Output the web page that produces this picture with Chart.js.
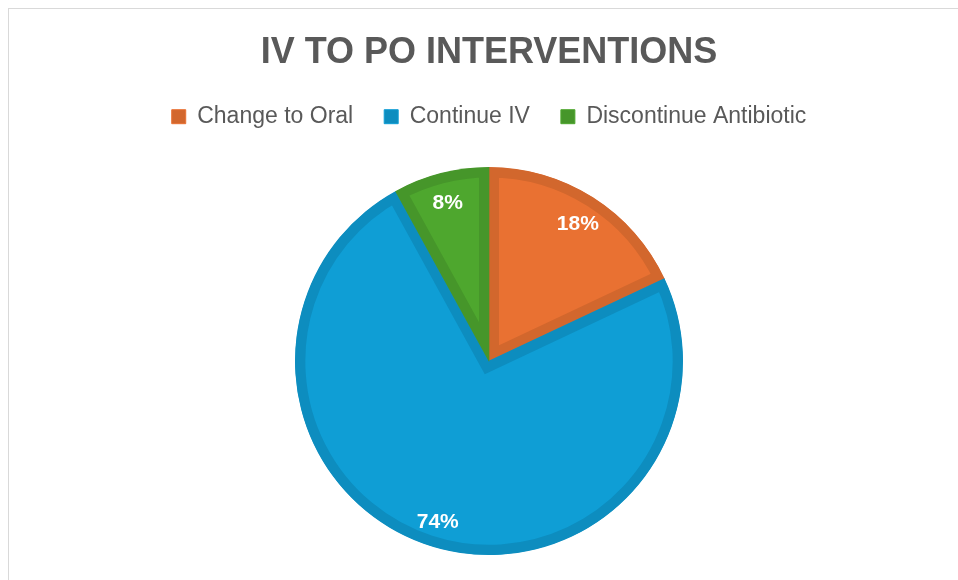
<!DOCTYPE html>
<html>
<head>
<meta charset="utf-8">
<script src="https://cdn.jsdelivr.net/npm/chart.js@4.4.1/dist/chart.umd.min.js"></script>
<style>
  html, body { margin: 0; padding: 0; background: #ffffff; }
  #wrap { position: relative; width: 958px; height: 580px; overflow: hidden; }
  #frame { position: absolute; left: 8px; top: 8px; width: 980px; height: 620px; border: 1px solid #d9d9d9; box-sizing: border-box; }
  #c { position: absolute; left: 0; top: 0; }
</style>
</head>
<body>
<div id="wrap">
  <div id="frame"></div>
  <canvas id="c" width="958" height="580"></canvas>
</div>
<script>
const titleText = 'IV TO PO INTERVENTIONS';
const categories = ['Change to Oral', 'Continue IV', 'Discontinue Antibiotic'];
const shares = [18, 74, 8];
const fillColors = ['#E97132', '#0F9ED5', '#4EA72E'];
const edgeColors = ['#D2672D', '#0D8DBF', '#46962A'];

const sliceLabels = {
  id: 'sliceLabels',
  afterDatasetsDraw(chart) {
    const meta = chart.getDatasetMeta(0);
    const data = chart.data.datasets[0].data;
    const total = data.reduce((a, b) => a + b, 0);
    const ctx = chart.ctx;
    ctx.save();
    ctx.fillStyle = '#ffffff';
    ctx.font = 'bold 21px "Liberation Sans", Arial, sans-serif';
    ctx.textAlign = 'center';
    ctx.textBaseline = 'alphabetic';
    meta.data.forEach((arc, i) => {
      const p = arc.getProps(['x', 'y', 'startAngle', 'endAngle', 'outerRadius'], true);
      const mid = (p.startAngle + p.endAngle) / 2;
      const r = p.outerRadius * 0.855;
      const x = p.x + Math.cos(mid) * r;
      const y = p.y + Math.sin(mid) * r;
      ctx.fillText(Math.round(data[i] / total * 100) + '%', x, y + 9);
    });
    ctx.restore();
  }
};

new Chart(document.getElementById('c'), {
  type: 'pie',
  data: {
    labels: categories,
    datasets: [{
      data: shares,
      backgroundColor: fillColors,
      borderColor: edgeColors,
      borderWidth: 10,
      borderAlign: 'inner',
      borderJoinStyle: 'miter',
      radius: 194,
      hoverOffset: 0,
      offset: 0
    }]
  },
  options: {
    responsive: false,
    animation: false,
    events: [],
    layout: { padding: { left: 20, right: 0, top: 0, bottom: 0 } },
    plugins: {
      tooltip: { enabled: false },
      title: {
        display: true,
        text: titleText,
        color: '#595959',
        font: { family: '"Liberation Sans", Arial, sans-serif', size: 36, weight: 'bold', lineHeight: 0.9 },
        padding: { top: 36.8, bottom: 5 }
      },
      subtitle: {
        display: true,
        text: '',
        position: 'top',
        weight: 500,
        font: { size: 1, lineHeight: 1 },
        padding: { top: 0, bottom: 3 }
      },
      legend: {
        display: true,
        position: 'top',
        labels: {
          color: '#595959',
          font: { family: '"Liberation Sans", Arial, sans-serif', size: 23 },
          boxWidth: 14,
          boxHeight: 14,
          padding: 31,
          generateLabels(chart) {
            const base = Chart.overrides.pie.plugins.legend.labels.generateLabels(chart);
            return base.map((item, i) => Object.assign(item, {
              fillStyle: edgeColors[i],
              strokeStyle: fillColors[i],
              lineWidth: 1
            }));
          }
        }
      }
    }
  },
  plugins: [sliceLabels]
});
</script>
</body>
</html>
